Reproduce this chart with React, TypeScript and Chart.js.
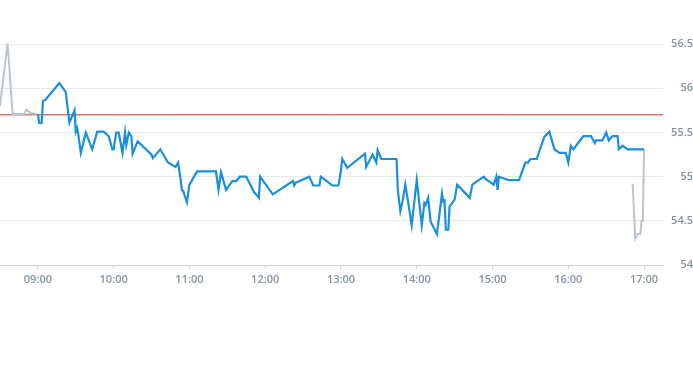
import React, { useEffect, useRef } from "react";
import { Chart, registerables } from "chart.js";

Chart.register(...registerables);

const preTimes = ["08:30", "08:36", "08:40", "08:49", "08:51", "08:54", "08:59"];
const preValues = [55.8, 56.51, 55.71, 55.71, 55.76, 55.72, 55.71];

const mainTimes = [
  "09:00", "09:01", "09:03", "09:04", "09:06", "09:17", "09:22", "09:25", "09:29", "09:30",
  "09:31", "09:32", "09:34", "09:38", "09:43", "09:47", "09:52", "09:56", "09:59", "10:00",
  "10:02", "10:04", "10:07", "10:09", "10:10", "10:12", "10:14", "10:15", "10:19", "10:30",
  "10:31", "10:37", "10:43", "10:49", "10:51", "10:53", "10:54", "10:55", "10:58", "11:00",
  "11:06", "11:21", "11:23", "11:25", "11:29", "11:34", "11:37", "11:40", "11:45", "11:51",
  "11:55", "11:56", "12:06", "12:22", "12:23", "12:24", "12:35", "12:38", "12:43", "12:44",
  "12:47", "12:53", "12:58", "13:00", "13:01", "13:05", "13:19", "13:20", "13:25", "13:28",
  "13:29", "13:32", "13:44", "13:45", "13:47", "13:49", "13:51", "13:56", "14:00", "14:04",
  "14:06", "14:07", "14:09", "14:11", "14:16", "14:20", "14:21", "14:22", "14:23", "14:25",
  "14:26", "14:30", "14:32", "14:42", "14:44", "14:53", "14:55", "15:01", "15:03", "15:04",
  "15:05", "15:13", "15:21", "15:26", "15:28", "15:30", "15:35", "15:41", "15:45", "15:49",
  "15:53", "15:58", "16:00", "16:02", "16:04", "16:12", "16:18", "16:21", "16:22", "16:27",
  "16:30", "16:32", "16:35", "16:39", "16:40", "16:43", "16:47", "17:00",
];
const mainValues = [
  55.71, 55.61, 55.61, 55.86, 55.87, 56.06, 55.96, 55.61, 55.75, 55.51,
  55.55, 55.48, 55.27, 55.5, 55.31, 55.51, 55.51, 55.46, 55.31, 55.31,
  55.5, 55.5, 55.27, 55.5, 55.36, 55.5, 55.46, 55.26, 55.4, 55.25,
  55.21, 55.31, 55.16, 55.11, 55.16, 54.97, 54.85, 54.84, 54.71, 54.91,
  55.06, 55.06, 54.85, 55.05, 54.85, 54.95, 54.95, 55.0, 55.0, 54.83,
  54.76, 55.0, 54.8, 54.95, 54.9, 54.93, 55.0, 54.9, 54.9, 55.0,
  54.97, 54.9, 54.9, 55.07, 55.2, 55.1, 55.26, 55.11, 55.25, 55.16,
  55.3, 55.2, 55.2, 54.85, 54.61, 54.74, 54.91, 54.45, 54.96, 54.45,
  54.7, 54.68, 54.76, 54.49, 54.35, 54.81, 54.72, 54.73, 54.4, 54.4,
  54.66, 54.74, 54.91, 54.76, 54.91, 55.0, 54.97, 54.91, 55.0, 54.85,
  55.0, 54.96, 54.96, 55.16, 55.16, 55.2, 55.2, 55.45, 55.51, 55.31,
  55.27, 55.27, 55.16, 55.35, 55.31, 55.46, 55.46, 55.38, 55.41, 55.41,
  55.5, 55.41, 55.46, 55.46, 55.31, 55.35, 55.31, 55.31,
];

const postTimes = ["16:51", "16:53", "16:55", "16:57", "16:58", "16:59", "17:00"];
const postValues = [54.92, 54.3, 54.35, 54.35, 54.5, 54.5, 55.31];

const prevClose = 55.7;
const axisStart = "08:30";
const axisEnd = "17:15";
const hourTicks = ["09:00", "10:00", "11:00", "12:00", "13:00", "14:00", "15:00", "16:00", "17:00"];
const yMin = 54;
const yMax = 57;
const yStep = 0.5;

const toMin = (s: string) => {
  const [h, m] = s.split(":").map(Number);
  return h * 60 + m;
};
const fmt = (v: number) => {
  const h = Math.floor(v / 60);
  const m = Math.round(v - h * 60);
  return String(h).padStart(2, "0") + ":" + String(m).padStart(2, "0");
};
const pts = (t: string[], v: number[]) => t.map((s, i) => ({ x: toMin(s), y: v[i] }));

export default function App() {
  const ref = useRef<HTMLCanvasElement | null>(null);
  useEffect(() => {
    if (!ref.current) return;
    const FONT = { family: "'Open Sans', 'Liberation Sans', sans-serif", size: 11, weight: "600" as any };
    const gray = [...pts(preTimes, preValues), { x: toMin("08:59") + 0.5, y: null as any }, ...pts(postTimes, postValues)];
    const chart = new Chart(ref.current, {
      type: "line",
      data: {
        datasets: [
          {
            data: pts(mainTimes, mainValues),
            borderColor: "#1a8fdb",
            borderWidth: 2.2,
            pointRadius: 0,
            tension: 0,
            order: 0,
          },
          {
            data: gray,
            borderColor: "#bcc4cb",
            borderWidth: 2,
            pointRadius: 0,
            tension: 0,
            spanGaps: false,
            order: 1,
          },
          {
            data: [
              { x: toMin(axisStart), y: prevClose },
              { x: toMin(axisEnd), y: prevClose },
            ],
            borderColor: "#bd3428",
            borderWidth: 1,
            pointRadius: 0,
            order: 2,
          },
        ],
      },
      options: {
        animation: false,
        responsive: true,
        maintainAspectRatio: false,
        layout: { padding: { left: 0, right: 0, top: 0, bottom: 80 } },
        plugins: { legend: { display: false }, tooltip: { enabled: false } },
        scales: {
          x: {
            type: "linear",
            min: toMin(axisStart),
            max: toMin(axisEnd),
            afterBuildTicks: (scale: any) => {
              scale.ticks = hourTicks.map((s) => ({ value: toMin(s) }));
            },
            afterFit: (scale: any) => {
              scale.paddingLeft = 0;
              scale.paddingRight = 0;
              scale.height = 20;
            },
            grid: { drawOnChartArea: false, drawTicks: true, tickLength: 4, color: "#ccd3db" },
            border: { display: true, color: "#ccd3db", width: 1 },
            ticks: {
              autoSkip: false,
              maxRotation: 0,
              padding: 4,
              color: "#8593a1",
              font: FONT,
              callback: (v: any) => fmt(Number(v)),
            },
          },
          y: {
            position: "right",
            min: yMin,
            max: yMax,
            afterFit: (scale: any) => {
              scale.width = 30;
              scale.paddingTop = 0;
              scale.paddingBottom = 0;
            },
            grid: {
              drawTicks: false,
              color: (ctx: any) => (ctx.tick && ctx.tick.value === yMax ? "rgba(0,0,0,0)" : "#e6e8eb"),
            },
            border: { display: false },
            ticks: {
              stepSize: yStep,
              padding: 10,
              crossAlign: "far",
              color: "#8593a1",
              font: FONT,
              callback: (v: any) => (Number(v) === yMax ? "" : String(v)),
            },
          },
        },
      },
    });
    return () => chart.destroy();
  }, []);
  return (
    <div style={{ position: "fixed", left: 0, top: 0, width: 693, height: 365, background: "#fff" }}>
      <canvas ref={ref} />
    </div>
  );
}
